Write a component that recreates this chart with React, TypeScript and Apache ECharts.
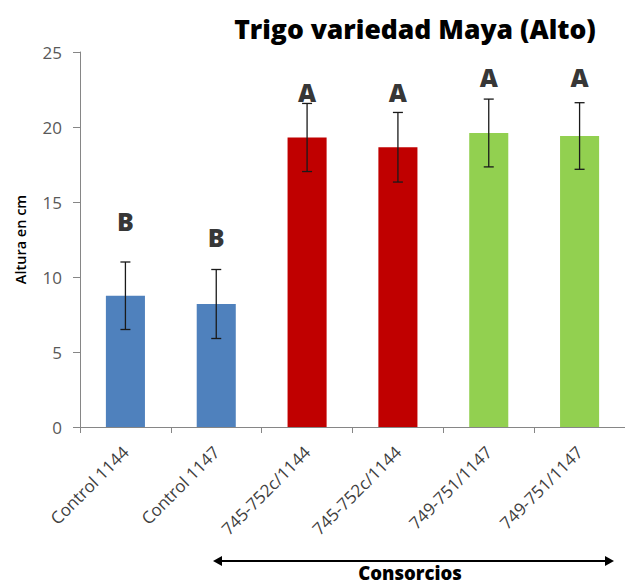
import React, { useEffect, useRef } from "react";
import * as echarts from "echarts";

const categories = ["Control 1144", "Control 1147", "745-752c/1144", "745-752c/1144", "749-751/1147", "749-751/1147"];
const means = [8.75, 8.2, 19.3, 18.65, 19.6, 19.4];
const errors = [2.25, 2.3, 2.27, 2.32, 2.26, 2.22];
const colors = ["#4F81BD", "#4F81BD", "#C00000", "#C00000", "#92D050", "#92D050"];
const letters = ["B", "B", "A", "A", "A", "A"];
const letterLevels = [13.75, 12.7, 22.35, 22.35, 23.35, 23.35];
const yTicks = [0, 5, 10, 15, 20, 25];

export default function App() {
  const ref = useRef<HTMLDivElement>(null);
  useEffect(() => {
    if (!ref.current) return;
    const chart = echarts.init(ref.current, null, { renderer: "svg" });
    const option: any = {
      animation: false,
      backgroundColor: "#ffffff",
      title: {
        text: "Trigo variedad Maya (Alto)",
        left: 410,
        top: 10,
        textAlign: "center",
        textStyle: { fontFamily: "Open Sans", fontWeight: 800, fontSize: 26.5, color: "#000" },
      },
      grid: { left: 80, top: 52, width: 553, bottom: 159, containLabel: false },
      xAxis: {
        type: "category",
        data: categories,
        boundaryGap: true,
        axisLine: { lineStyle: { color: "#868686", width: 1 } },
        axisTick: { show: true, length: 6, lineStyle: { color: "#868686" } },
        axisLabel: {
          rotate: 45,
          margin: 22,
          fontFamily: "Open Sans",
          fontSize: 17,
          color: "#404040",
          interval: 0,
        },
      },
      yAxis: {
        type: "value",
        min: 0,
        max: 25,
        interval: 5,
        name: "Altura en cm",
        nameLocation: "middle",
        nameRotate: 90,
        nameGap: 52,
        nameTextStyle: { fontFamily: "Open Sans", fontWeight: 600, fontSize: 14.5, color: "#000" },
        axisLine: { show: true, lineStyle: { color: "#868686", width: 1 } },
        axisTick: { show: true, length: 7, lineStyle: { color: "#868686" } },
        splitLine: { show: false },
        axisLabel: {
          fontFamily: "Open Sans",
          fontSize: 17,
          color: "#595959",
          margin: 18,
          formatter: (v: number) => (yTicks.includes(v) ? String(v) : ""),
        },
      },
      series: [
        {
          type: "bar",
          barWidth: "43%",
          data: means.map((m, i) => ({ value: m, itemStyle: { color: colors[i] } })),
        },
        {
          type: "custom",
          data: means.map((m, i) => [i, m - errors[i], m + errors[i]]),
          z: 10,
          renderItem: (params: any, api: any) => {
            const x = api.value(0);
            const lo = api.coord([x, api.value(1)]);
            const hi = api.coord([x, api.value(2)]);
            const hw = 5;
            const style = { stroke: "#1a1a1a", lineWidth: 1.3 };
            return {
              type: "group",
              children: [
                { type: "line", shape: { x1: hi[0], y1: hi[1], x2: lo[0], y2: lo[1] }, style },
                { type: "line", shape: { x1: hi[0] - hw, y1: hi[1], x2: hi[0] + hw, y2: hi[1] }, style },
                { type: "line", shape: { x1: lo[0] - hw, y1: lo[1], x2: lo[0] + hw, y2: lo[1] }, style },
              ],
            };
          },
        },
        {
          type: "scatter",
          symbolSize: 0,
          data: letterLevels.map((v, i) => [i, v]),
          label: {
            show: true,
            position: "inside",
            formatter: (p: any) => letters[p.dataIndex],
            fontFamily: "Open Sans",
            fontWeight: 800,
            fontSize: 25,
            color: "#000",
          },
        },
      ],
      graphic: [
        { type: "line", shape: { x1: 218, y1: 561, x2: 609, y2: 561 }, style: { stroke: "#000", lineWidth: 2 } },
        { type: "polygon", shape: { points: [[213, 561], [222, 556], [222, 566]] }, style: { fill: "#000" } },
        { type: "polygon", shape: { points: [[614, 561], [605, 556], [605, 566]] }, style: { fill: "#000" } },
        {
          type: "text",
          x: 410,
          y: 572,
          style: {
            text: "Consorcios",
            fontFamily: "Open Sans",
            fontWeight: 800,
            fontSize: 18.5,
            fill: "#000",
            textAlign: "center",
            textVerticalAlign: "middle",
          },
        },
      ],
    };
    chart.setOption(option);
    return () => chart.dispose();
  }, []);
  return <div ref={ref} style={{ position: "absolute", left: 0, top: 0, width: 625, height: 586 }} />;
}
